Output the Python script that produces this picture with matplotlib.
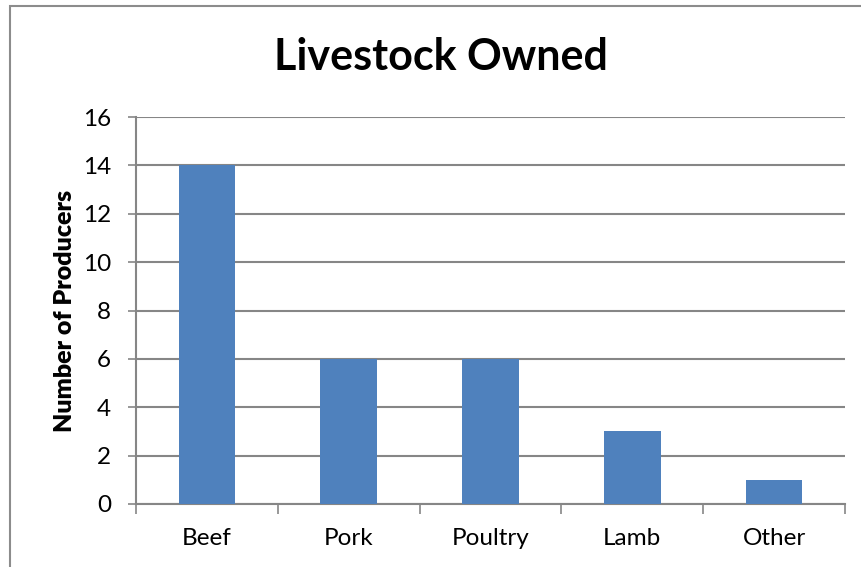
import matplotlib
matplotlib.use("Agg")
import matplotlib.pyplot as plt
from matplotlib.patches import Rectangle

categories = ["Beef", "Pork", "Poultry", "Lamb", "Other"]
producers = [14, 6, 6, 3, 1]
y_ticks = [0, 2, 4, 6, 8, 10, 12, 14, 16]

plt.rcParams["font.family"] = ["Lato", "DejaVu Sans"]

W, H = 861, 567
fig = plt.figure(figsize=(W / 100, H / 100), dpi=100)

# outer chart frame
fig.patches.append(Rectangle((10 / W, -0.05), 1.1, (H - 5.5) / H + 0.05,
                             transform=fig.transFigure, fill=False,
                             edgecolor="#8c8c8c", linewidth=1.5))

left, right, top, bottom = 136, 845, 117, 504
ax = fig.add_axes([left / W, 1 - bottom / H, (right - left) / W, (bottom - top) / H])

x = range(len(categories))
ax.bar(x, producers, width=0.4, color="#4F81BD", zorder=3)

ax.set_xlim(-0.5, len(categories) - 0.5)
ax.set_ylim(0, 16)
ax.set_yticks(y_ticks)
ax.set_yticklabels([str(v) for v in y_ticks], fontsize=17.5)
ax.set_xticks(list(x))
ax.set_xticklabels(categories, fontsize=17.5)
ax.tick_params(axis="x", length=0, pad=17)
ax.tick_params(axis="y", length=6, width=1.2, color="#868686", pad=12)

# category boundary ticks on the x axis
ax.set_xticks([i - 0.5 for i in range(len(categories) + 1)], minor=True)
ax.tick_params(axis="x", which="minor", length=7, width=1.2, color="#868686")

ax.grid(axis="y", color="#868686", linewidth=1.5, zorder=0)
for side in ("top", "right"):
    ax.spines[side].set_visible(False)
for side in ("left", "bottom"):
    ax.spines[side].set_color("#868686")
    ax.spines[side].set_linewidth(1.5)

ax.set_ylabel("Number of Producers", fontsize=18, fontweight="heavy", labelpad=5)
fig.text(441 / W, 1 - 57 / H, "Livestock Owned", fontsize=31, fontweight="bold",
         ha="center", va="center")

fig.savefig("out.png", dpi=100)
